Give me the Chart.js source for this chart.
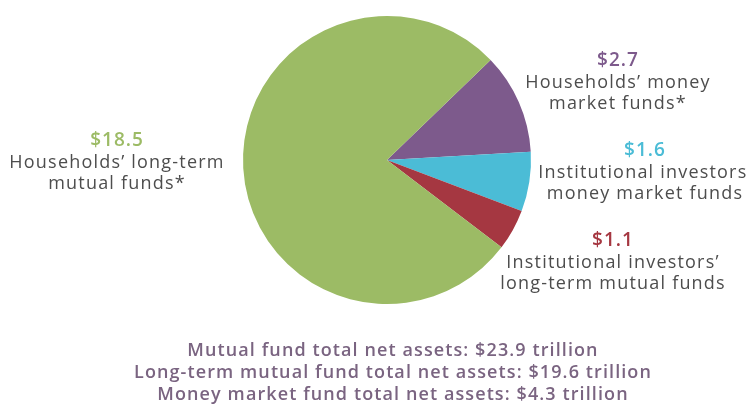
<!DOCTYPE html>
<html>
<head>
<meta charset="utf-8">
<script src="https://cdn.jsdelivr.net/npm/chart.js@4"></script>
<style>
    html, body { margin: 0; padding: 0; background: #fff; }
    #wrap { position: relative; width: 747px; height: 415px; }
</style>
</head>
<body>
<div id="wrap"><canvas id="fundsCanvas" width="747" height="415"></canvas></div>
<script>
// Net assets in trillions of dollars
const categories = [
    ['Households’ money', 'market funds*'],
    ['Institutional investors’', 'money market funds'],
    ['Institutional investors’', 'long-term mutual funds'],
    ['Households’ long-term', 'mutual funds*']
];
const values = [2.7, 1.6, 1.1, 18.5];
const isLongTerm = [false, false, true, true];
const colors = ['#7d5a8c', '#4bbcd6', '#a53741', '#9cbb65'];

// label anchor (centre of the value line) for each slice
const labelAnchors = [[618, 61], [645, 151], [613, 241], [117, 141]];

function initFundsChart() {
    const total = values.reduce((a, b) => a + b, 0);
    const longTerm = values.filter((v, i) => isLongTerm[i]).reduce((a, b) => a + b, 0);
    const moneyMarket = values.filter((v, i) => !isLongTerm[i]).reduce((a, b) => a + b, 0);
    const summary = [
        'Mutual fund total net assets: $' + total.toFixed(1) + ' trillion',
        'Long-term mutual fund total net assets: $' + longTerm.toFixed(1) + ' trillion',
        'Money market fund total net assets: $' + moneyMarket.toFixed(1) + ' trillion'
    ];

    const labelPlugin = {
        id: 'sliceLabels',
        afterDraw(chart) {
            const ctx = chart.ctx;
            ctx.save();
            ctx.textAlign = 'center';
            ctx.textBaseline = 'middle';
            for (let i = 0; i < values.length; i++) {
                const [x, y] = labelAnchors[i];
                ctx.letterSpacing = '1px';
                ctx.font = '600 19px "Open Sans"';
                ctx.fillStyle = colors[i];
                ctx.fillText('$' + values[i].toFixed(1), x, y);
                ctx.letterSpacing = '1.2px';
                ctx.font = '18px "Open Sans"';
                ctx.fillStyle = '#4d4d4d';
                categories[i].forEach((line, j) => ctx.fillText(line, x, y + 21.5 * (j + 1)));
            }
            ctx.letterSpacing = '1.1px';
            ctx.font = '600 18px "Open Sans"';
            ctx.fillStyle = '#7a6481';
            summary.forEach((line, j) => ctx.fillText(line, 393, 351 + 22 * j));
            ctx.restore();
        }
    };

    new Chart(document.getElementById('fundsCanvas').getContext('2d'), {
        type: 'pie',
        data: {
            labels: categories.map(c => c.join(' ')),
            datasets: [{
                data: values,
                backgroundColor: colors,
                borderWidth: 0
            }]
        },
        options: {
            responsive: false,
            animation: false,
            rotation: 46,
            layout: { padding: { left: 243, right: 216, top: 16, bottom: 111 } },
            plugins: {
                legend: { display: false },
                tooltip: { enabled: false }
            }
        },
        plugins: [labelPlugin]
    });
}

if (typeof Chart !== 'undefined') {
    initFundsChart();
} else {
    window.addEventListener('load', initFundsChart);
}
</script>
</body>
</html>
